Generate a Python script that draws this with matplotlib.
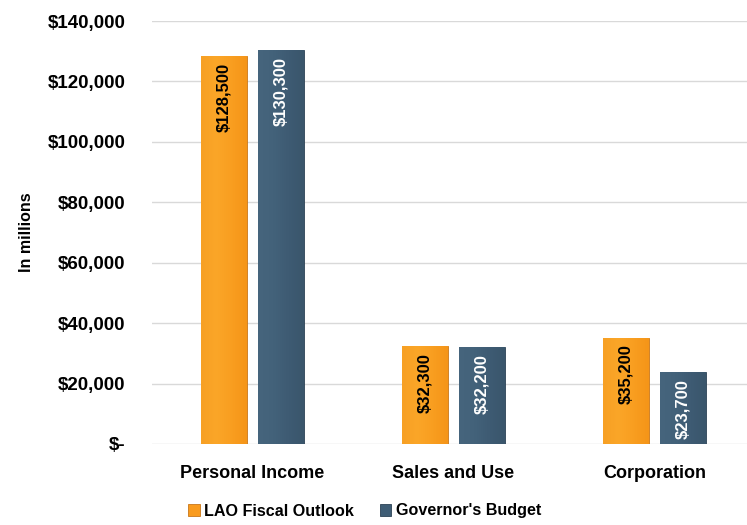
import numpy as np
import matplotlib.pyplot as plt
from matplotlib.ticker import FuncFormatter
from matplotlib.colors import LinearSegmentedColormap

plt.rcParams['font.family'] = ['Liberation Sans', 'DejaVu Sans']

categories = ['Personal Income', 'Sales and Use', 'Corporation']
lao = [128500, 32300, 35200]
gov = [130300, 32200, 23700]
series_names = ['LAO Fiscal Outlook', "Governor's Budget"]

orange = '#F99B1E'
blue = '#3F5D75'

fig = plt.figure(figsize=(7.47, 5.25), dpi=100)
ax = fig.add_axes([152/747, 81/525, 595/747, 423/525])

x = np.arange(len(categories))
w = 0.225
off = 0.142

b1 = ax.bar(x - off, lao, w, color=orange, edgecolor='#C8771A', linewidth=0.6,
            label=series_names[0], zorder=3)
b2 = ax.bar(x + off, gov, w, color=blue, edgecolor='#2C4255', linewidth=0.6,
            label=series_names[1], zorder=3)

# slight horizontal shading inside the bars
cm_o = LinearSegmentedColormap.from_list('o', ['#F7A024', '#FBA628', '#F99E20', '#F59518'])
cm_b = LinearSegmentedColormap.from_list('b', ['#46657D', '#43627A', '#3E5B73', '#3A566C'])
grad = np.linspace(0, 1, 64).reshape(1, -1)
for bars, cm in ((b1, cm_o), (b2, cm_b)):
    for p in bars:
        x0, y0 = p.get_x(), p.get_y()
        im = ax.imshow(grad, cmap=cm, aspect='auto', zorder=3.5,
                       extent=(x0, x0 + p.get_width(), y0, y0 + p.get_height()))
        im.set_clip_path(p)

ax.set_xlim(-0.5, 2.46)
ax.set_ylim(0, 140000)
ax.set_yticks(np.arange(0, 140001, 20000))
ax.yaxis.set_major_formatter(FuncFormatter(lambda v, p: '$-' if v == 0 else f'${v:,.0f}'))
ax.set_xticks(x)
ax.set_xticklabels(categories)
ax.tick_params(length=0)
ax.tick_params(axis='x', pad=15, labelsize=13)
ax.tick_params(axis='y', pad=19, labelsize=13.5)
for lab in ax.get_xticklabels() + ax.get_yticklabels():
    lab.set_fontweight('bold')
ax.grid(axis='y', color='#D9D9D9', linewidth=1, zorder=0)
for s in ax.spines.values():
    s.set_visible(False)

ax.set_ylabel('In millions', fontsize=11.5, fontweight='bold', labelpad=10)

for bars, vals, col in ((b1, lao, 'black'), (b2, gov, 'white')):
    for p, v in zip(bars, vals):
        ax.text(p.get_x() + p.get_width() / 2, v - 2300, f'${v:,.0f}',
                rotation=90, ha='center', va='top', fontsize=12,
                fontweight='bold', color=col, zorder=5)

leg = fig.legend(handles=[b1, b2], labels=series_names, loc='center',
                 bbox_to_anchor=(365/747, 1 - 511/525), ncol=2, frameon=False,
                 handlelength=0.7, handleheight=0.7, handletextpad=0.3,
                 columnspacing=1.6, prop={'weight': 'bold', 'size': 11.6})

fig.savefig('out.png', dpi=100)
